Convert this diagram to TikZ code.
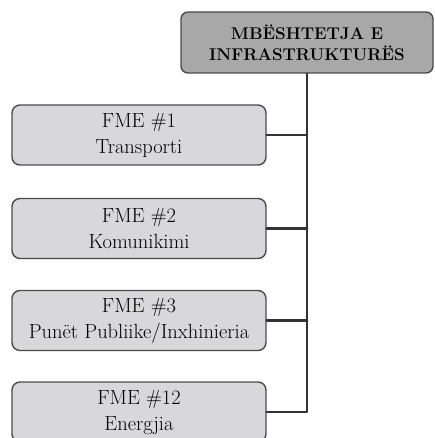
\documentclass[tikz,border=0pt]{standalone}
\usepackage{fontspec}
\usetikzlibrary{positioning}
\definecolor{hdrgray}{RGB}{168,168,168}
\definecolor{boxgray}{RGB}{216,216,220}
\definecolor{edgegray}{RGB}{75,75,75}
\tikzset{
	hdrbox/.style={draw=edgegray, line width=1.4pt, fill=hdrgray, rounded corners=7pt,
		minimum width=252pt, minimum height=61pt, align=center, inner sep=2pt,
		font=\fontsize{17}{21}\selectfont\bfseries},
	fmebox/.style={draw=edgegray, line width=1.4pt, fill=boxgray, rounded corners=8pt,
		minimum width=254pt, minimum height=60pt, align=center, inner sep=2pt,
		font=\fontsize{20.5}{26}\selectfont},
	link/.style={draw=black!80, line width=2.6pt}
}
\begin{document}
\begin{tikzpicture}[x=1pt, y=-1pt, line join=round, line cap=round]
	\useasboundingbox (0,0) rectangle (434,438);
	\node[hdrbox] (mb) at (307,42.5) {MBËSHTETJA E\\INFRASTRUKTURËS};
	\node[fmebox] (f1) at (139,135) {FME \#1\\Transporti};
	\node[fmebox] (f2) at (139,228.5) {FME \#2\\Komunikimi};
	\node[fmebox] (f3) at (139,320.5) {FME \#3\\Punët Publiike/Inxhinieria};
	\node[fmebox] (f12) at (139,412) {FME \#12\\Energjia};
	% trunk and branches
	\draw[link] (mb.south) -- (mb.south |- f12.east) -- (f12.east);
	\foreach \f in {f1,f2,f3}{
		\draw[link] (\f.east) -- (\f.east -| mb.south);}
\end{tikzpicture}
\end{document}
